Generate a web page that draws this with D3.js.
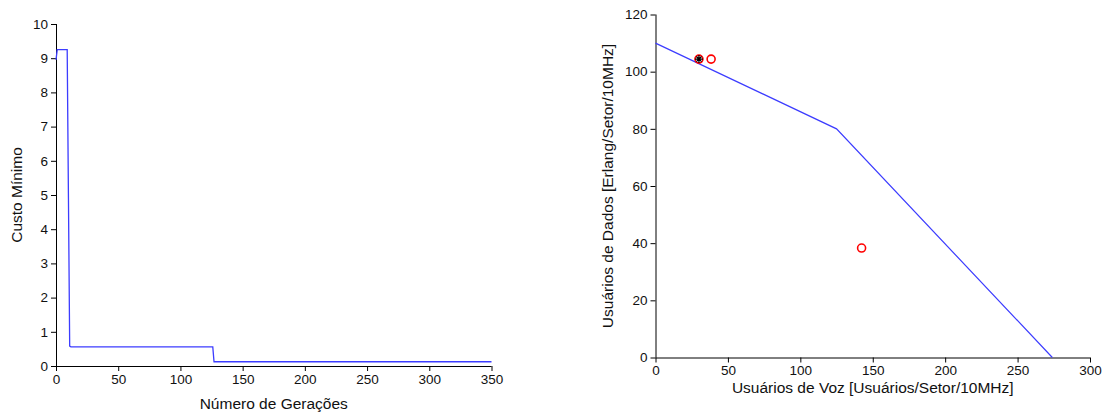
<!DOCTYPE html>
<html>
<head>
<meta charset="utf-8">
<script src="https://cdn.jsdelivr.net/npm/d3@7"></script>
<style>
  html, body { margin: 0; padding: 0; background: #fff; }
  svg { display: block; }
  .tick text { font-family: "Liberation Sans", Arial, sans-serif; font-size: 13.5px; fill: #111; }
  .lbl { font-family: "Liberation Sans", Arial, sans-serif; font-size: 15.5px; fill: #111; }
</style>
</head>
<body>
<svg id="fig" width="1106" height="414"></svg>
<script>
// Left panel: best cost per generation (change points of the curve)
const geracoes = [0, 1, 9, 10, 11, 12, 126, 127, 350];
const custoMinimo = [8.95, 9.25, 9.25, 4.93, 0.58, 0.56, 0.56, 0.125, 0.125];
const ticksGeracoes = [0, 50, 100, 150, 200, 250, 300, 350];
const ticksCusto = [0, 1, 2, 3, 4, 5, 6, 7, 8, 9, 10];

// Right panel: capacity boundary (voice vs data) and candidate solutions
const fronteiraVoz = [0, 125, 274];
const fronteiraDados = [110, 80, 0];
const solucoesVoz = [30, 38.4, 142.3];
const solucoesDados = [104.4, 104.4, 38.3];
const melhorVoz = [30];
const melhorDados = [104.4];
const ticksVoz = [0, 50, 100, 150, 200, 250, 300];
const ticksDados = [0, 20, 40, 60, 80, 100, 120];

const svg = d3.select("#fig");
const lineColor = "#3c3cff";

function axes(g, x, y, xt, yt, xlabel, ylabel, xlabelDy, ylabelX) {
  const xa = d3.axisBottom(x).tickValues(xt).tickSize(5).tickPadding(3).tickFormat(d3.format("d"));
  const ya = d3.axisLeft(y).tickValues(yt).tickSize(5).tickPadding(3).tickFormat(d3.format("d"));
  const [x0, x1] = x.range();
  const [y0, y1] = y.range();
  g.append("g").attr("transform", `translate(0,${y0})`).call(xa)
    .call(s => s.select(".domain").attr("d", `M${x0},0.5H${x1}`));
  g.append("g").attr("transform", `translate(${x0},0)`).call(ya)
    .call(s => s.select(".domain").attr("d", `M0.5,${y0}V${y1}`));
  g.selectAll(".tick line").attr("stroke", "#000");
  g.selectAll(".domain").attr("stroke", "#000");
  g.append("text").attr("class", "lbl").attr("text-anchor", "middle")
    .attr("x", (x0 + x1) / 2).attr("y", y0 + xlabelDy).text(xlabel);
  g.append("text").attr("class", "lbl").attr("text-anchor", "middle")
    .attr("transform", `translate(${ylabelX},${(y0 + y1) / 2}) rotate(-90)`).text(ylabel);
}

// ---- left panel ----
{
  const g = svg.append("g");
  const x = d3.scaleLinear().domain([0, 350]).range([56, 491.5]);
  const y = d3.scaleLinear().domain([0, 10]).range([366, 24]);
  axes(g, x, y, ticksGeracoes, ticksCusto, "Número de Gerações", "Custo Mínimo", 43, 22);
  const pts = geracoes.map((d, i) => [d, custoMinimo[i]]);
  g.append("path").datum(pts)
    .attr("fill", "none").attr("stroke", lineColor).attr("stroke-width", 1.3)
    .attr("d", d3.line().x(d => x(d[0])).y(d => y(d[1])));
}

// ---- right panel ----
{
  const g = svg.append("g");
  const x = d3.scaleLinear().domain([0, 300]).range([655.5, 1090]);
  const y = d3.scaleLinear().domain([0, 120]).range([357.5, 14.5]);
  axes(g, x, y, ticksVoz, ticksDados, "Usuários de Voz [Usuários/Setor/10MHz]",
       "Usuários de Dados [Erlang/Setor/10MHz]", 35, 613);
  const pts = fronteiraVoz.map((d, i) => [d, fronteiraDados[i]]);
  g.append("path").datum(pts)
    .attr("fill", "none").attr("stroke", lineColor).attr("stroke-width", 1.2)
    .attr("d", d3.line().x(d => x(d[0])).y(d => y(d[1])));

  g.selectAll("circle.sol").data(solucoesVoz.map((d, i) => [d, solucoesDados[i]]))
    .join("circle").attr("class", "sol")
    .attr("cx", d => x(d[0])).attr("cy", d => y(d[1])).attr("r", 4)
    .attr("fill", "none").attr("stroke", "#ff0000").attr("stroke-width", 1.6);

  const best = melhorVoz.map((d, i) => [d, melhorDados[i]]);
  const star = g.selectAll("g.best").data(best).join("g").attr("class", "best")
    .attr("transform", d => `translate(${x(d[0])},${y(d[1])})`);
  star.append("path").attr("d", "M-4,0H4M0,-4V4M-2.6,-2.6L2.6,2.6M-2.6,2.6L2.6,-2.6")
    .attr("stroke", "#000").attr("stroke-width", 1.2);
}
</script>
</body>
</html>
